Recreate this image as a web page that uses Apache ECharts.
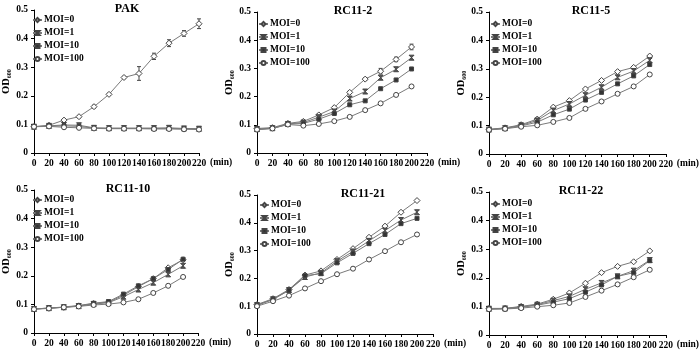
<!DOCTYPE html>
<html>
<head>
<meta charset="utf-8">
<script src="https://cdn.jsdelivr.net/npm/echarts@6/dist/echarts.min.js"></script>
<style>
  html, body { margin: 0; padding: 0; background: #fff; }
  #chart { width: 700px; height: 352px; }
</style>
</head>
<body>
<div id="chart"></div>
<script>
// sampling times (min)
const minutes = [0, 20, 40, 60, 80, 100, 120, 140, 160, 180, 200, 220];
const moiNames = ["MOI=0", "MOI=1", "MOI=10", "MOI=100"];
const panelTitles = ["PAK", "RC11-2", "RC11-5", "RC11-10", "RC11-21", "RC11-22"];

// OD600 per panel, one row per MOI (0, 1, 10, 100)
const pak = [
  [0.092, 0.097, 0.115, 0.127, 0.162, 0.205, 0.264, 0.278, 0.338, 0.384, 0.418, 0.452],
  [0.092, 0.095, 0.098, 0.097, 0.088, 0.087, 0.087, 0.087, 0.087, 0.088, 0.086, 0.085],
  [0.092, 0.094, 0.095, 0.093, 0.087, 0.086, 0.086, 0.086, 0.086, 0.086, 0.085, 0.084],
  [0.092, 0.093, 0.090, 0.088, 0.086, 0.085, 0.085, 0.085, 0.084, 0.084, 0.083, 0.082]
];
const pakErr0 = [0, 0.003, 0.004, 0.004, 0.005, 0.004, 0.004, 0.024, 0.011, 0.012, 0.01, 0.017];

const rc11_2 = [
  [0.087, 0.090, 0.105, 0.112, 0.135, 0.161, 0.215, 0.262, 0.290, 0.332, 0.376],
  [0.085, 0.088, 0.103, 0.108, 0.127, 0.147, 0.193, 0.218, 0.267, 0.297, 0.338],
  [0.083, 0.087, 0.102, 0.105, 0.120, 0.140, 0.171, 0.185, 0.228, 0.259, 0.298],
  [0.083, 0.087, 0.101, 0.097, 0.103, 0.113, 0.128, 0.152, 0.176, 0.206, 0.236]
];
const rc11_2Err0 = [0, 0, 0, 0, 0.004, 0.004, 0.004, 0.005, 0.01, 0.008, 0.01];

const rc11_5 = [
  [0.087, 0.092, 0.103, 0.123, 0.165, 0.188, 0.229, 0.259, 0.290, 0.305, 0.345],
  [0.086, 0.091, 0.101, 0.118, 0.153, 0.176, 0.207, 0.235, 0.270, 0.292, 0.330],
  [0.086, 0.090, 0.099, 0.112, 0.138, 0.158, 0.190, 0.217, 0.247, 0.275, 0.315],
  [0.085, 0.089, 0.096, 0.101, 0.113, 0.127, 0.159, 0.185, 0.212, 0.238, 0.280]
];

const rc11_10 = [
  [0.084, 0.087, 0.090, 0.095, 0.103, 0.108, 0.132, 0.162, 0.190, 0.228, 0.256],
  [0.084, 0.087, 0.090, 0.094, 0.101, 0.106, 0.127, 0.152, 0.176, 0.205, 0.235],
  [0.084, 0.087, 0.091, 0.096, 0.104, 0.110, 0.136, 0.165, 0.190, 0.222, 0.258],
  [0.083, 0.086, 0.090, 0.093, 0.098, 0.101, 0.107, 0.118, 0.140, 0.165, 0.196]
];

const rc11_21 = [
  [0.106, 0.127, 0.160, 0.212, 0.227, 0.268, 0.307, 0.348, 0.388, 0.438, 0.480],
  [0.104, 0.125, 0.158, 0.205, 0.220, 0.262, 0.297, 0.335, 0.372, 0.410, 0.438],
  [0.103, 0.124, 0.157, 0.210, 0.217, 0.256, 0.290, 0.325, 0.358, 0.397, 0.416],
  [0.100, 0.118, 0.138, 0.164, 0.190, 0.215, 0.235, 0.268, 0.298, 0.330, 0.358]
];

const rc11_22 = [
  [0.093, 0.093, 0.100, 0.108, 0.125, 0.147, 0.181, 0.218, 0.240, 0.256, 0.294],
  [0.092, 0.093, 0.098, 0.106, 0.120, 0.135, 0.160, 0.182, 0.205, 0.225, 0.262],
  [0.091, 0.092, 0.097, 0.104, 0.115, 0.127, 0.150, 0.175, 0.205, 0.218, 0.260],
  [0.090, 0.091, 0.094, 0.099, 0.104, 0.112, 0.133, 0.155, 0.177, 0.202, 0.228]
];

const panels = [pak, rc11_2, rc11_5, rc11_10, rc11_21, rc11_22];
const errors = [[0, pakErr0], [1, rc11_2Err0]]; // [panel, MOI=0 error]

// layout
const boxes = [
  {left: 31,  top: 10,  width: 168, height: 143},
  {left: 257, top: 12,  width: 170, height: 141},
  {left: 489, top: 12,  width: 184, height: 142},
  {left: 29,  top: 190, width: 169, height: 143},
  {left: 257, top: 195, width: 176, height: 139},
  {left: 489, top: 192, width: 180, height: 143}
];
const legendPos = [[32, 15], [258, 19], [490, 19], [32, 195], [259, 200], [490, 199]];
const titleX = [122, 348, 586, 123, 358, 576];

const FONT = "Liberation Serif";
const symbols = [
  "diamond",
  "path://M0,0L10,0L0,10L10,10Z",
  "rect",
  "circle"
];
const symbolFill = ["#fff", "#555", "#333", "#fff"];
const symbolSizes = [6, 5, 4, 5];

const chart = echarts.init(document.getElementById("chart"));

const grid = [], xAxis = [], yAxis = [], title = [], legend = [], series = [];

boxes.forEach((b, p) => {
  grid.push(Object.assign({containLabel: false}, b));
  xAxis.push({
    type: "value", gridIndex: p, min: 0, max: 220, interval: 20,
    name: "(min)", nameLocation: "end", nameGap: 6,
    nameTextStyle: {fontFamily: FONT, fontWeight: "bold", fontSize: 9.5, color: "#000", verticalAlign: "top", padding: [5, 0, 0, 0]},
    axisLine: {onZero: false, lineStyle: {color: "#000", width: 1}},
    axisTick: {length: 3, lineStyle: {color: "#000"}},
    axisLabel: {fontFamily: FONT, fontWeight: "bold", fontSize: 9.5, color: "#000", margin: 6},
    splitLine: {show: false}
  });
  yAxis.push({
    type: "value", gridIndex: p, min: 0, max: 0.5, interval: 0.1,
    name: "{a|OD}{s|600}", nameLocation: "middle", nameGap: 22, nameRotate: 90,
    nameTextStyle: {
      rich: {
        a: {fontFamily: FONT, fontWeight: "bold", fontSize: 10.5, color: "#000"},
        s: {fontFamily: FONT, fontWeight: "bold", fontSize: 6, color: "#000", verticalAlign: "bottom", padding: [4, 0, 0, 0]}
      }
    },
    axisLine: {show: true, lineStyle: {color: "#000", width: 1}},
    axisTick: {show: true, length: 3, lineStyle: {color: "#000"}},
    axisLabel: {fontFamily: FONT, fontWeight: "bold", fontSize: 9.5, color: "#000", margin: 6,
      formatter: v => v === 0 ? "0" : v.toFixed(1)},
    splitLine: {show: false}
  });
  title.push({
    text: panelTitles[p],
    left: titleX[p], top: b.top - 12, textAlign: "center",
    textStyle: {fontFamily: FONT, fontWeight: "bold", fontSize: 12, color: "#000"}
  });
  legend.push({
    data: moiNames, orient: "vertical",
    left: legendPos[p][0], top: legendPos[p][1],
    itemWidth: 9, itemHeight: 5, itemGap: 3, padding: 0,
    selectedMode: false,
    textStyle: {fontFamily: FONT, fontWeight: "bold", fontSize: 9.5, color: "#000", padding: [0, 0, 0, -3]}
  });

  panels[p].forEach((vals, m) => {
    series.push({
      name: moiNames[m], type: "line",
      xAxisIndex: p, yAxisIndex: p,
      data: vals.map((v, i) => [minutes[i], v]),
      symbol: symbols[m], symbolSize: symbolSizes[m], showAllSymbol: true,
      lineStyle: {color: "#7a7a7a", width: 1},
      itemStyle: {color: symbolFill[m], borderColor: "#444", borderWidth: 1},
      emphasis: {disabled: true},
      animation: false,
      z: 3 + m
    });
  });
});

errors.forEach(([p, err]) => {
  const vals = panels[p][0];
  series.push({
    type: "custom", xAxisIndex: p, yAxisIndex: p,
    data: vals.map((v, i) => [minutes[i], v, err[i]]),
    renderItem: (params, api) => {
      const x = api.value(0), y = api.value(1), e = api.value(2);
      if (!e) return;
      const hi = api.coord([x, y + e]), lo = api.coord([x, y - e]);
      const st = {stroke: "#444", lineWidth: 1};
      return {type: "group", children: [
        {type: "line", shape: {x1: hi[0], y1: hi[1], x2: lo[0], y2: lo[1]}, style: st},
        {type: "line", shape: {x1: hi[0] - 2, y1: hi[1], x2: hi[0] + 2, y2: hi[1]}, style: st},
        {type: "line", shape: {x1: lo[0] - 2, y1: lo[1], x2: lo[0] + 2, y2: lo[1]}, style: st}
      ]};
    },
    animation: false, z: 2
  });
});

chart.setOption({
  backgroundColor: "#fff",
  animation: false,
  grid, xAxis, yAxis, title, legend, series
});
</script>
</body>
</html>
